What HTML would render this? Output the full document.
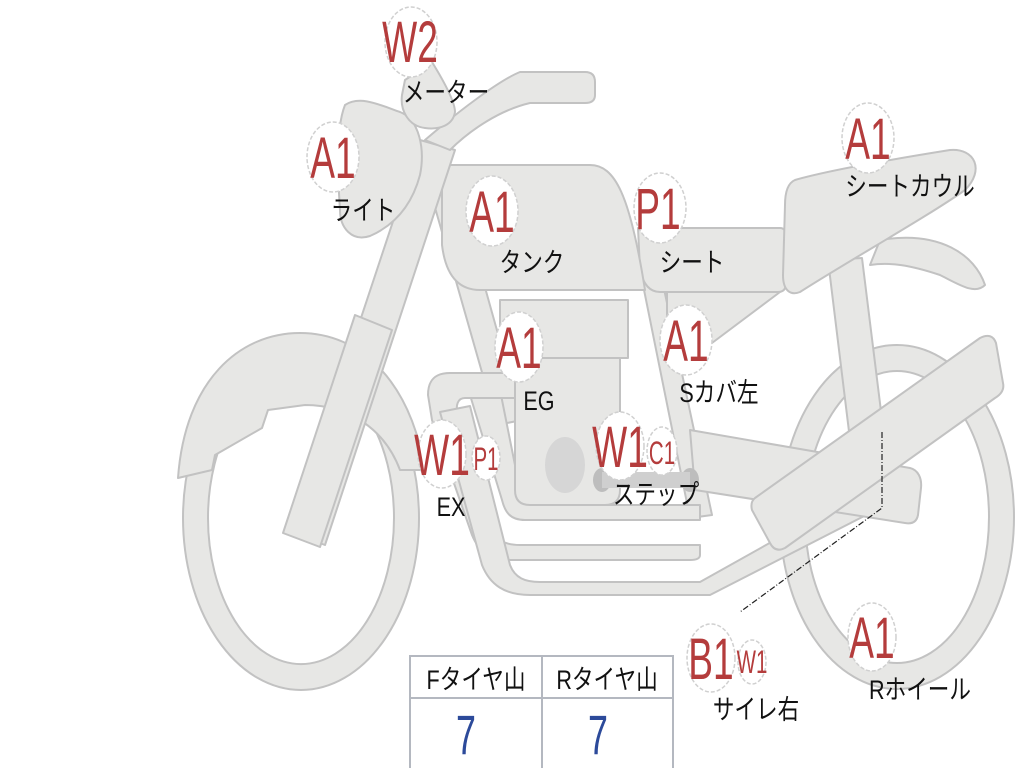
<!DOCTYPE html>
<html><head><meta charset="utf-8"><style>
html,body{margin:0;padding:0;background:#fff;width:1024px;height:768px;overflow:hidden}
svg{display:block}
.s{fill:#e7e7e5;stroke:#c2c2c2;stroke-width:2;stroke-linejoin:round}
.m{fill:#fff;stroke:#d0d0d0;stroke-width:1.5;stroke-dasharray:4 2}
.r{fill:#b43c3c;font-family:"Liberation Sans",sans-serif;text-anchor:middle}
.k{fill:#111;font-family:"Liberation Sans","Noto Sans CJK JP",sans-serif;text-anchor:middle;font-size:27px}
</style></head><body>
<svg width="1024" height="768" viewBox="0 0 1024 768">
<path class="s" fill-rule="evenodd" d="M780,517a117,172 0 1,0 234,0a117,172 0 1,0 -234,0Z M805,517a92,146 0 1,0 184,0a92,146 0 1,0 -184,0Z"/>
<path class="s" fill-rule="evenodd" d="M183,518a118,172 0 1,0 236,0a118,172 0 1,0 -236,0Z M208,518a93,146 0 1,0 186,0a93,146 0 1,0 -186,0Z"/>
<path class="s" d="M178,478 C185,380 240,333 300,333 C360,333 410,380 425,470 L400,470 C385,430 350,405 305,405 L268,410 L262,428 L215,455 L212,470 Z"/>
<path class="s" d="M880,240 C940,230 975,255 985,285 C975,295 960,285 940,275 C910,265 890,262 870,265 Z"/>
<path class="s" d="M828,260 L862,258 L892,500 L858,505 Z"/>
<path class="s" d="M430,190 L455,180 L522,420 L497,425 Z"/>
<path class="s" d="M640,270 L660,270 L712,515 L690,518 Z"/>
<path class="s" d="M470,395 L500,390 L520,490 C522,500 528,505 540,505 L700,505 L700,520 L525,520 C510,520 505,512 502,500 Z"/>
<path class="s" d="M428,395 C428,380 435,373 450,373 L515,373 L515,398 L465,398 C458,398 455,405 458,415 L490,528 C495,540 505,545 520,545 L700,545 L700,555 Q700,560 690,560 L510,560 C490,560 478,550 472,535 L432,420 Z"/>
<path class="s" d="M440,412 L470,406 L510,565 C515,578 525,582 540,582 L700,582 L900,470 L915,490 L710,595 L530,595 C505,595 490,585 482,565 Z"/>
<path class="s" d="M690,430 L910,468 C918,470 922,478 921,488 L918,515 Q916,525 905,523 L695,490 Z"/>
<path class="s" d="M755,498 L980,338 Q992,332 996,343 L1003,383 Q1005,392 995,398 L785,548 Q775,553 770,543 L752,510 Q750,502 755,498 Z"/>
<rect class="s" x="500" y="300" width="128" height="58"/>
<path class="s" d="M515,358 L620,358 L620,490 Q620,505 605,505 L530,505 Q515,505 515,490 Z"/>
<ellipse cx="565" cy="465" rx="20" ry="28" fill="#d6d6d6"/>
<ellipse cx="602" cy="480" rx="9" ry="12" fill="#bdbdbd"/>
<ellipse cx="690" cy="480" rx="9" ry="12" fill="#bdbdbd"/>
<rect x="602" y="472" width="88" height="16" fill="#cfcfcf"/>
<path class="s" d="M667,290 L780,292 L700,352 L667,345 Z"/>
<path class="s" d="M638,228 L780,228 Q786,228 786,236 L786,283 Q786,292 778,292 L660,292 Q645,292 640,270 Z"/>
<path class="s" d="M795,180 C830,170 900,158 950,150 C975,148 985,170 965,190 C930,215 850,260 800,292 C790,296 783,290 783,275 L785,205 C785,192 788,183 795,180 Z"/>
<path class="s" d="M442,165 L590,165 C615,165 630,195 645,290 L480,290 C455,290 445,270 442,245 Z"/>
<path class="s" d="M420,140 L455,150 L325,545 L290,532 Z"/>
<path class="s" d="M355,315 L392,330 L320,547 L283,533 Z"/>
<path class="s" d="M425,140 C460,110 500,80 520,72 L585,72 Q595,72 595,82 L595,95 Q595,103 585,103 L530,103 C500,110 470,130 450,150 Z"/>
<path class="s" d="M345,105 C360,95 380,105 400,112 C420,120 425,150 420,175 C412,205 395,225 370,236 C352,242 340,228 340,210 C338,180 335,130 345,105 Z"/>
<path class="s" d="M405,80 L432,62 C440,75 455,100 455,112 C453,125 440,130 425,128 C408,126 400,110 402,95 Z"/>
<path d="M882,432 L882,508 L740,612" fill="none" stroke="#222" stroke-width="1.2" stroke-dasharray="6 2 1 2"/>
<g>
<ellipse class="m" cx="411" cy="42" rx="26" ry="35"/>
<ellipse class="m" cx="333" cy="157" rx="26" ry="35"/>
<ellipse class="m" cx="492" cy="211" rx="26" ry="35"/>
<ellipse class="m" cx="660" cy="208" rx="26" ry="35"/>
<ellipse class="m" cx="868" cy="138" rx="26" ry="35"/>
<ellipse class="m" cx="519" cy="347" rx="24" ry="35"/>
<ellipse class="m" cx="686" cy="340" rx="26" ry="35"/>
<ellipse class="m" cx="442" cy="454" rx="24" ry="34"/>
<ellipse class="m" cx="486" cy="458" rx="14" ry="22"/>
<ellipse class="m" cx="620" cy="446" rx="24" ry="34"/>
<ellipse class="m" cx="662" cy="451" rx="15" ry="24"/>
<ellipse class="m" cx="711" cy="658" rx="24" ry="34"/>
<ellipse class="m" cx="752" cy="662" rx="14" ry="22"/>
<ellipse class="m" cx="872" cy="637" rx="24" ry="34"/>
</g>
<g class="r" font-size="58">
<text transform="translate(410,62) scale(0.64,1)">W2</text>
<text transform="translate(333,178) scale(0.64,1)">A1</text>
<text transform="translate(492,232) scale(0.64,1)">A1</text>
<text transform="translate(658,229) scale(0.64,1)">P1</text>
<text transform="translate(868,159) scale(0.64,1)">A1</text>
<text transform="translate(519,368) scale(0.64,1)">A1</text>
<text transform="translate(686,361) scale(0.64,1)">A1</text>
<text transform="translate(442,475) scale(0.64,1)">W1</text>
<text transform="translate(620,467) scale(0.64,1)">W1</text>
<text transform="translate(711,679) scale(0.64,1)">B1</text>
<text transform="translate(872,658) scale(0.64,1)">A1</text>
</g>
<g class="r" font-size="32">
<text transform="translate(486,470) scale(0.64,1)">P1</text>
<text transform="translate(662,464) scale(0.64,1)">C1</text>
<text transform="translate(752,673) scale(0.64,1)">W1</text>
</g>
<g class="k">
<text transform="translate(446,102) scale(0.8,1)">メーター</text>
<text transform="translate(363,220) scale(0.8,1)">ライト</text>
<text transform="translate(532,272) scale(0.8,1)">タンク</text>
<text transform="translate(692,272) scale(0.8,1)">シート</text>
<text transform="translate(910,196) scale(0.8,1)">シートカウル</text>
<text transform="translate(539,410) scale(0.8,1)">EG</text>
<text transform="translate(719,402) scale(0.8,1)">Sカバ左</text>
<text transform="translate(451,516) scale(0.8,1)">EX</text>
<text transform="translate(656,504) scale(0.8,1)">ステップ</text>
<text transform="translate(756,719) scale(0.8,1)">サイレ右</text>
<text transform="translate(920,699) scale(0.8,1)">Rホイール</text>
</g>
<rect x="410" y="656" width="263" height="120" fill="#fff" stroke="#b4b8c0" stroke-width="2"/>
<line x1="410" y1="698" x2="673" y2="698" stroke="#b4b8c0" stroke-width="2"/>
<line x1="542" y1="656" x2="542" y2="768" stroke="#b4b8c0" stroke-width="2"/>
<g class="k" font-size="27">
<text transform="translate(476,689) scale(0.8,1)">Fタイヤ山</text>
<text transform="translate(607,689) scale(0.8,1)">Rタイヤ山</text>
</g>
<g fill="#2c4a9a" font-family="Liberation Sans,sans-serif" font-size="56" text-anchor="middle">
<text transform="translate(466,754) scale(0.64,1)">7</text>
<text transform="translate(598,754) scale(0.64,1)">7</text>
</g>
</svg>
</body></html>
